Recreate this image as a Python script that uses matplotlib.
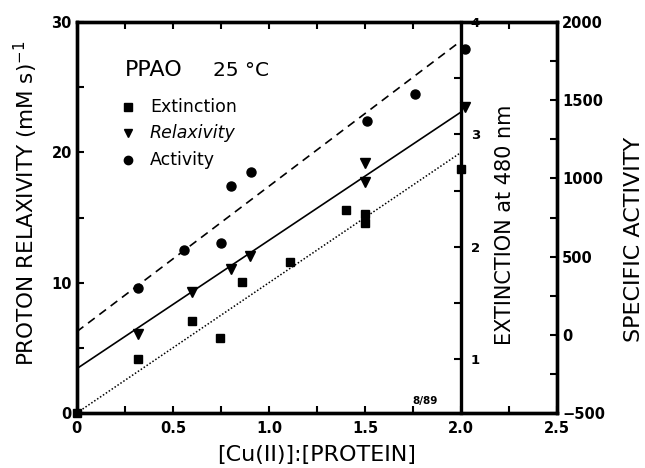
import numpy as np
import matplotlib
matplotlib.use("Agg")
import matplotlib.pyplot as plt
from matplotlib.ticker import MultipleLocator

plt.rcParams['font.family'] = ['DejaVu Sans']

# Extinction at 480 nm (squares)
ext_x = [0.0, 0.32, 0.60, 0.745, 0.86, 1.11, 1.40, 1.50, 1.50, 2.0]
ext_y = [0.52, 1.00, 1.34, 1.19, 1.69, 1.86, 2.33, 2.29, 2.21, 2.69]

# Proton relaxivity (triangles)
rel_x = [0.32, 0.60, 0.80, 0.90, 1.50, 1.50, 2.02]
rel_y = [6.1, 9.3, 11.05, 12.05, 19.2, 17.7, 23.5]

# Specific activity (circles)
act_x = [0.32, 0.56, 0.75, 0.80, 0.905, 1.51, 1.76, 2.02]
act_y = [300, 542, 587, 950, 1042, 1367, 1542, 1825]

# fitted lines: (intercept, slope)
ext_fit = (0.52, 1.16)
rel_fit = (3.4, 9.85)
act_fit = (20, 930)
fit_x = np.array([0.0, 2.0])

x_ticks = [0, 0.5, 1.0, 1.5, 2.0, 2.5]
x_labels = ['0', '0.5', '1.0', '1.5', '2.0', '2.5']

fig = plt.figure(figsize=(6.45, 4.68), dpi=100)
ax = fig.add_axes([0.119, 0.1175, 0.745, 0.8355])
ax_act = ax.twinx()
ax_ext = ax.twinx()

lw_spine = 2.4
tick_kw = dict(direction='in', length=5, width=1.5, labelsize=10.5)

# main axes
ax.set_xlim(0, 2.5)
ax.set_ylim(0, 30)
ax.set_xticks(x_ticks)
ax.set_xticklabels(x_labels, fontweight='bold')
ax.xaxis.set_minor_locator(MultipleLocator(0.25))
ax.set_yticks([0, 10, 20, 30])
ax.set_yticklabels(['0', '10', '20', '30'], fontweight='bold')
ax.yaxis.set_minor_locator(MultipleLocator(5))
ax.tick_params(which='both', top=True, right=False, **tick_kw)
ax.tick_params(axis='x', pad=6)
for s in ax.spines.values():
    s.set_linewidth(lw_spine)

# activity axis (right)
ax_act.set_ylim(-500, 2000)
ax_act.set_yticks([-500, 0, 500, 1000, 1500, 2000])
ax_act.set_yticklabels(['\u2212500', '0', '500', '1000', '1500', '2000'], fontweight='bold')
ax_act.yaxis.set_minor_locator(MultipleLocator(250))
ax_act.tick_params(which='both', **tick_kw)
for s in ax_act.spines.values():
    s.set_linewidth(lw_spine)

# extinction axis at x = 2.0
ax_ext.set_ylim(0.52, 4.0)
ax_ext.spines['right'].set_position(('axes', 0.8))
for k in ['left', 'top', 'bottom']:
    ax_ext.spines[k].set_visible(False)
ax_ext.spines['right'].set_linewidth(lw_spine)
ax_ext.set_yticks([1, 2, 3, 4])
ax_ext.set_yticklabels(['1', '2', '3', '4'], fontweight='bold')
ax_ext.yaxis.set_minor_locator(MultipleLocator(0.5))
ax_ext.tick_params(which='both', direction='in', length=5, width=1.5, labelsize=9.5, pad=7)

# data and fits
ax_ext.plot(ext_x, ext_y, 's', color='black', markersize=6, clip_on=False)
ax_ext.plot(fit_x, ext_fit[0] + ext_fit[1] * fit_x, color='black', lw=1.1, ls=(0, (1, 1.3)))
ax.plot(rel_x, rel_y, 'v', color='black', markersize=7, clip_on=False)
ax.plot(fit_x, rel_fit[0] + rel_fit[1] * fit_x, color='black', lw=1.2)
ax_act.plot(act_x, act_y, 'o', color='black', markersize=6.5, clip_on=False)
ax_act.plot(fit_x, act_fit[0] + act_fit[1] * fit_x, color='black', lw=1.2, ls=(0, (5, 3.5)))

# legend / annotation
ax.text(0.25, 26.3, 'PPAO', fontsize=16, va='center')
ax.text(0.71, 26.3, '25 \u00b0C', fontsize=14.5, va='center')
leg_items = [('s', 'Extinction', 23.5, 'normal'), ('v', 'Relaxivity', 21.5, 'italic'),
             ('o', 'Activity', 19.4, 'normal')]
for m, lab, yy, st in leg_items:
    ax.plot([0.267], [yy], m, color='black', markersize=6)
    ax.text(0.38, yy, lab, fontsize=12.5, va='center', style=st)
ax.text(1.81, 0.55, '8/89', fontsize=7.5, fontweight='bold', ha='center', va='bottom')

fig.text(0.491, 0.028, '[Cu(II)]:[PROTEIN]', fontsize=16, ha='center', va='center')
fig.text(0.040, 0.565, 'PROTON RELAXIVITY (mM s)$^{-1}$', rotation=90, fontsize=15.5,
         ha='center', va='center')
fig.text(0.783, 0.519, 'EXTINCTION at 480 nm', rotation=90, fontsize=15,
         ha='center', va='center')
fig.text(0.983, 0.489, 'SPECIFIC ACTIVITY', rotation=90, fontsize=16,
         ha='center', va='center')

fig.savefig('out.png', dpi=100)
